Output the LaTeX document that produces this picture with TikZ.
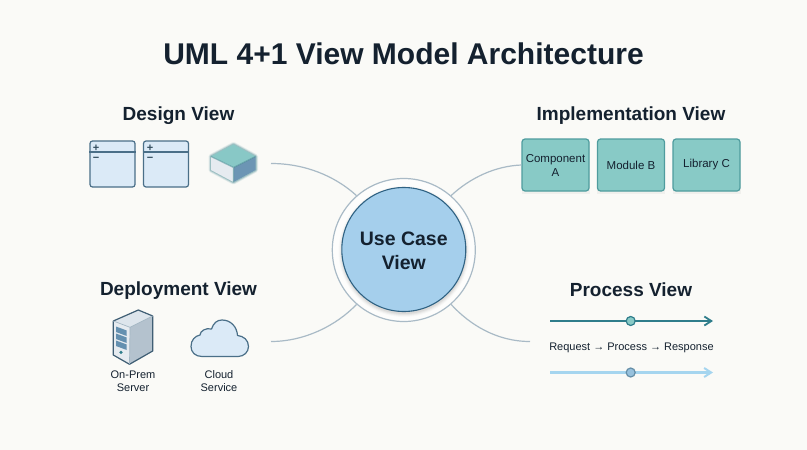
\documentclass[tikz,border=0pt]{standalone}
\usepackage{fontspec}
\setmainfont{Liberation Sans}
\usetikzlibrary{arrows.meta}
\definecolor{bgc}{HTML}{FAFAF7}
\definecolor{ink}{HTML}{14212F}
\definecolor{conn}{HTML}{A9BAC6}
\definecolor{ucfill}{HTML}{A5CFEC}
\definecolor{ucline}{HTML}{2F6283}
\definecolor{classfill}{HTML}{DBEAF7}
\definecolor{classline}{HTML}{4A6F88}
\definecolor{tealfill}{HTML}{88CAC6}
\definecolor{tealline}{HTML}{4F9C9E}
\definecolor{darkteal}{HTML}{2F7D8B}
\definecolor{lightblue}{HTML}{A5D5EF}
\definecolor{srvtop}{HTML}{DDE5EC}
\definecolor{srvleft}{HTML}{E6EBF0}
\definecolor{srvright}{HTML}{B4C2CE}
\definecolor{srvstripe}{HTML}{6490B0}
\tikzset{
  x=1pt,y=-1pt,
  title/.style={font=\bfseries\fontsize{30}{32}\selectfont,text=ink,inner sep=0},
  heading/.style={font=\bfseries\fontsize{19}{22}\selectfont,text=ink,inner sep=0},
  small/.style={font=\fontsize{11}{13.5}\selectfont,text=ink,inner sep=0,align=center},
  connector/.style={draw=conn,line width=1.2pt},
  classbox/.style={draw=classline,fill=classfill,line width=1.2pt,rounded corners=2.5pt,minimum width=45pt,minimum height=46pt,inner sep=0},
  classsym/.style={font=\bfseries\fontsize{11}{11}\selectfont,text=classline!70!black,inner sep=0},
  compbox/.style={draw=tealline,fill=tealfill,line width=1.2pt,rounded corners=3pt,minimum width=67pt,minimum height=52pt,inner sep=0,font=\fontsize{11.5}{14}\selectfont,text=ink,align=center},
  flowdot/.style={circle,minimum size=9pt,inner sep=0,line width=1.2pt},
}
\begin{document}
\begin{tikzpicture}
\useasboundingbox (0,0) rectangle (807,450);
\fill[bgc] (0,0) rectangle (807,450);
% title and headings
\node[title] (ttl) at (403.5,54) {UML 4+1 View Model Architecture};
\node[heading] (hd) at (178.5,116) {Design View};
\node[heading] (hi) at (631,116) {Implementation View};
\node[heading] (hdep) at (178.5,291) {Deployment View};
\node[heading] (hp) at (631,289.5) {Process View};
% centre
\node[circle,draw=conn,fill=white!60!bgc,line width=1.2pt,minimum size=143pt,inner sep=0] (ring) at (403.8,250) {};
\foreach \r/\o in {65.5/.02,64.5/.03,63.5/.04,62.5/.05}
  \fill[black,opacity=\o] (404,251.5) circle[radius=\r];
\node[circle,draw=ucline,fill=ucfill,line width=1.1pt,minimum size=124pt,inner sep=0] (uc) at (403.8,249.5) {};
\node[font=\bfseries\fontsize{19.5}{23.5}\selectfont,text=ink,align=center,inner sep=0] (uct) at (403.8,251) {Use Case\\View};
% free ends of connectors
\coordinate (cdes) at (271,163.5);
\coordinate (cdep) at (271,341.5);
\coordinate (cpro) at (530,341.5);
% design view
\node[classbox] (c1) at (112.5,164) {};
\draw[classline,line width=1.2pt] (c1.west |- 0,152) -- (c1.east |- 0,152);
\node[classsym] (c1p) at (96,148.3) {+};
\node[classsym] (c1m) at (96,159.5) {−};
\node[classbox] (c2) at (166,164) {};
\draw[classline,line width=1.2pt] (c2.west |- 0,152) -- (c2.east |- 0,152);
\node[classsym] (c2p) at (150,148.3) {+};
\node[classsym] (c2m) at (150,159.5) {−};
% cube
\foreach \w/\o in {5/.12,3.5/.2,2/.35}
  \draw[tealline!70!classline,line width=\w pt,line join=round,opacity=\o] (233.5,144.5) -- (255.5,156.5) -- (255.5,170) -- (233.5,182) -- (211,170) -- (211,156.5) -- cycle;
\fill[tealfill!85!teal!85!white] (233.5,144.5) -- (255.5,156.5) -- (233.5,167.5) -- (211,156.5) -- cycle;
\fill[srvleft] (211,156.5) -- (233.5,167.5) -- (233.5,182) -- (211,170) -- cycle;
\fill[srvstripe!95!white] (255.5,156.5) -- (233.5,167.5) -- (233.5,182) -- (255.5,170) -- cycle;
\draw[tealline!70!classline,line width=1.2pt,line join=round,opacity=.55] (211,156.5) -- (233.5,167.5) -- (255.5,156.5) (233.5,167.5) -- (233.5,182);
% implementation view
\foreach \i in {1,2,3}
  \fill[black,opacity=.04] ({555.5+(\i-1)*75.5-34},142) rectangle +(68,51.5);
\node[compbox] (ca) at (555.5,165) {\raisebox{-1pt}{Component}\\\raisebox{-1pt}{A}};
\node[compbox] (mb) at (631,165) {\raisebox{-1.5pt}{Module B}};
\node[compbox] (lc) at (706.5,165) {\raisebox{-1.5pt}{Library C}};
% deployment view
\fill[srvtop] (113.3,321) -- (138.3,310) -- (152.7,316) -- (130,327.3) -- cycle;
\fill[srvleft] (113.3,321) -- (130,327.3) -- (129.5,364.3) -- (113.3,355) -- cycle;
\fill[srvright] (130,327.3) -- (152.7,316) -- (152.7,351) -- (129.5,364.3) -- cycle;
\draw[classline!85!black,line width=1.2pt,line join=round] (113.3,321) -- (138.3,310) -- (152.7,316) -- (152.7,351) -- (129.5,364.3) -- (113.3,355) -- cycle;
\draw[classline!50!white,line width=.7pt] (113.3,321) -- (130,327.3) -- (152.7,316) (130,327.3) -- (129.5,364.3);
\foreach \y in {0,7,14}
  \fill[srvstripe] (116,{326.5+\y}) -- (126.7,{330.5+\y}) -- (126.7,{336+\y}) -- (116,{332+\y}) -- cycle;
\fill[darkteal] (121,352.3) circle[radius=1.8];
\path[draw=classline,fill=classfill,line width=1.2pt,line join=round] (202,356.5) .. controls (195,356.5) and (191,352) .. (191,346.5) .. controls (191,340) and (195,336) .. (200,335) .. controls (200,331) and (206,327.5) .. (211.5,329) .. controls (213.5,323) and (217,320) .. (222,320) .. controls (231,320) and (237,327) .. (237.5,335.5) .. controls (243.5,336) and (248.5,340) .. (248.5,346.5) .. controls (248.5,352) and (244,356.5) .. (238,356.5) -- cycle;
\node[small] (onp) at (133,381) {On-Prem\\Server};
\node[small] (cld) at (219,381) {Cloud\\Service};
% process view
\coordinate (p1s) at (550,321);
\coordinate (p1e) at (713,321);
\coordinate (p2s) at (550,372.5);
\coordinate (p2e) at (713,372.5);
\draw[darkteal,line width=1.8pt,-{Straight Barb[length=7pt,width=9pt,line width=1.8pt]}] (p1s) -- (p1e);
\node[flowdot,draw=darkteal,fill=tealfill] (d1) at (630.7,321) {};
\node[font=\fontsize{11}{14}\selectfont,text=ink,inner sep=0] (flow) at (631.5,347.5) {Request → Process → Response};
\draw[lightblue,line width=2.2pt,-{Straight Barb[length=7pt,width=9pt,line width=2pt]}] (p2s) -- (p2e);
\node[flowdot,draw=classline!70!lightblue,fill=ucfill!85!classline] (d2) at (630.7,372.5) {};
% connectors
\draw[connector] (cdes) .. controls (305,163.5) and (335,176) .. (ring.131);
\draw[connector] (ring.49) .. controls (470,178) and (495,166) .. (ca.west);
\draw[connector] (cdep) .. controls (305,341.5) and (337,325) .. (ring.229);
\draw[connector] (ring.311) .. controls (470,325) and (497,341.5) .. (cpro);
\end{tikzpicture}
\end{document}
